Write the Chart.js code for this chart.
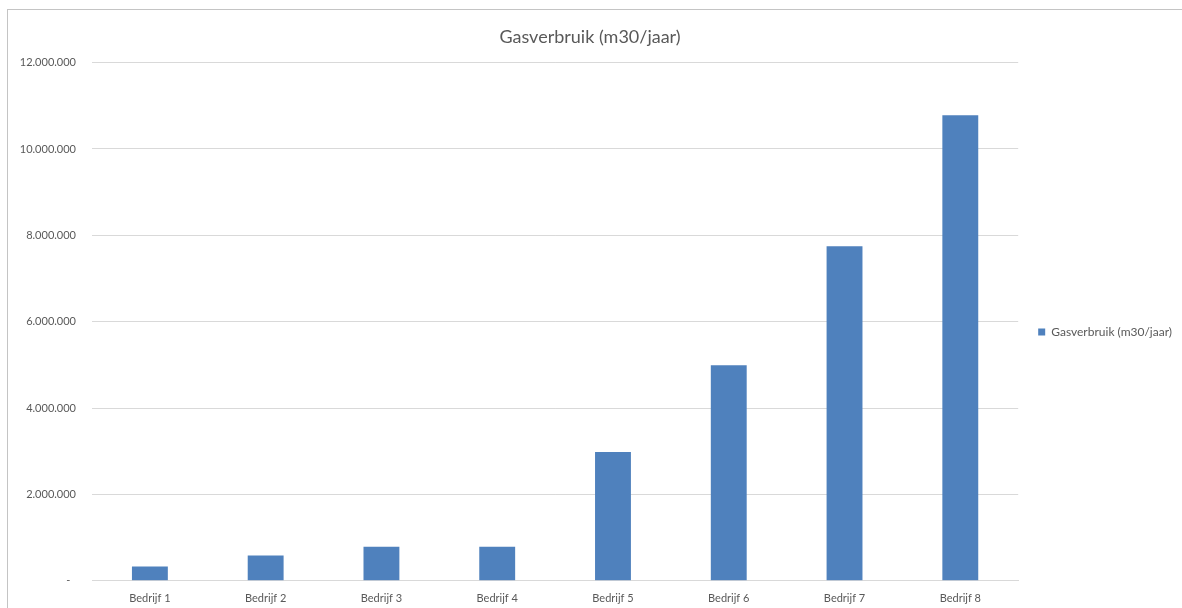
<!DOCTYPE html>
<html>
<head>
<meta charset="utf-8">
<script src="https://cdn.jsdelivr.net/npm/chart.js@4/dist/chart.umd.min.js"></script>
<style>
  body { margin: 0; background: #fff; }
  .kader {
    position: absolute; left: 7px; top: 9px;
    width: 1174px; height: 598px;
    border-top: 1px solid #c4c4c4; border-left: 1px solid #c4c4c4;
  }
</style>
</head>
<body>
<div class="kader"><canvas id="grafiekGas"></canvas></div>
<script>
// bedrijven en hun jaarlijkse gasverbruik
const bedrijven = ['Bedrijf 1', 'Bedrijf 2', 'Bedrijf 3', 'Bedrijf 4', 'Bedrijf 5', 'Bedrijf 6', 'Bedrijf 7', 'Bedrijf 8'];
const gasverbruik = [330000, 585000, 790000, 790000, 2980000, 4990000, 7750000, 10780000];
const yMax = 12000000;
const yStap = 2000000;

const grijs = '#595959';
const lettertype = 'Lato, "Liberation Sans", sans-serif';

// nederlandse notatie: 12.000.000, nul wordt een streepje
const formatGetal = v => v === 0 ? '-  ' : v.toLocaleString('nl-NL');

// legenda wat naar rechts en omlaag schuiven
const legendaVerschuiven = {
  id: 'legendaVerschuiven',
  afterLayout(chart) {
    const lg = chart.legend;
    lg.top += 19; lg.bottom += 19;
    lg.left += 10; lg.right += 10;
  }
};

const ctx = document.getElementById('grafiekGas');
new Chart(ctx, {
  type: 'bar',
  data: {
    labels: bedrijven,
    datasets: [{
      label: 'Gasverbruik (m30/jaar)',
      data: gasverbruik,
      backgroundColor: '#4F81BD',
      borderWidth: 0,
      categoryPercentage: 0.31,
      barPercentage: 1
    }]
  },
  options: {
    responsive: true,
    maintainAspectRatio: false,
    animation: false,
    layout: { padding: { left: 0, right: 10, bottom: -8, top: 0 } },
    plugins: {
      title: {
        display: true,
        text: 'Gasverbruik (m30/jaar)',
        color: grijs,
        font: { family: lettertype, size: 18, weight: 'normal' },
        padding: { top: 16, bottom: 15 }
      },
      legend: {
        position: 'right',
        labels: {
          color: grijs,
          font: { family: lettertype, size: 12 },
          boxWidth: 7,
          boxHeight: 7,
          padding: 10
        }
      },
      tooltip: { enabled: false }
    },
    scales: {
      x: {
        grid: { display: false, drawTicks: false },
        border: { color: '#d9d9d9' },
        ticks: { color: grijs, font: { family: lettertype, size: 11 }, padding: 11 }
      },
      y: {
        min: 0,
        max: yMax,
        afterFit: scale => { scale.width = 84; },
        grid: { color: '#d9d9d9', drawTicks: false },
        border: { display: false },
        ticks: {
          stepSize: yStap,
          color: grijs,
          font: { family: lettertype, size: 11 },
          padding: 16,
          callback: formatGetal
        }
      }
    }
  },
  plugins: [legendaVerschuiven]
});
</script>
</body>
</html>
